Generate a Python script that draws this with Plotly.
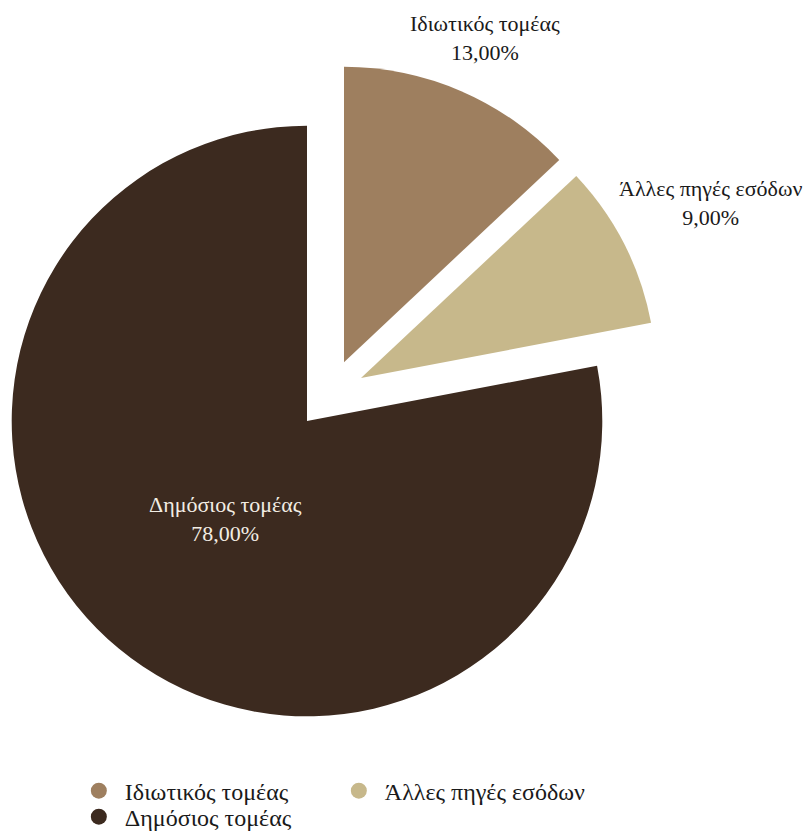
import plotly.graph_objects as go

labels = ["Ιδιωτικός τομέας", "Άλλες πηγές εσόδων", "Δημόσιος τομέας"]
values = [13, 9, 78]
colors = ["#9E7F5F", "#C7B88B", "#3C2A1F"]

W, H = 812, 840
R = 296
CLEAR = "rgba(0,0,0,0)"
FONT = "Liberation Serif"


def box(cx, cy):
    # pie domain (paper fractions) for a given center in px
    return dict(x=[(cx - R) / W, (cx + R) / W],
                y=[1 - (cy + R) / H, 1 - (cy - R) / H])


# one pie per slice so that the pulled slices sit where they do in the picture
slice_centers = [(344, 363), (361, 379), (307, 422)]
# slice labels, px centres
label_spots = [(485, 38), (710, 203), (225, 520)]
label_colors = ["#1a1a1a", "#1a1a1a", "#F2EDE4"]
# legend rows: first two entries on top, last one below
legend_rows = ["legend", "legend", "legend2"]

fig = go.Figure()
total = sum(values)
for i, (cx, cy) in enumerate(slice_centers):
    cols = [CLEAR] * len(values)
    cols[i] = colors[i]
    fig.add_trace(go.Pie(
        labels=labels,
        values=values,
        sort=False,
        direction="clockwise",
        rotation=0,
        domain=box(cx, cy),
        marker=dict(colors=cols, line=dict(width=0)),
        textinfo="none",
        hoverinfo="skip",
        showlegend=False,
    ))
    lx, ly = label_spots[i]
    pct = f"{100 * values[i] / total:.2f}".replace(".", ",")
    fig.add_annotation(
        x=lx / W, y=1 - ly / H, xref="paper", yref="paper",
        text=f"{labels[i]}<br>{pct}%", showarrow=False,
        xanchor="center", yanchor="middle",
        font=dict(family=FONT, size=22, color=label_colors[i]),
    )

# round legend markers
for lab, col, lg in zip(labels, colors, legend_rows):
    fig.add_trace(go.Scatter(
        x=[None], y=[None], mode="markers", name=lab, legend=lg,
        marker=dict(symbol="circle", size=20, color=col),
    ))

legend_style = dict(
    orientation="h",
    x=0.0897, xanchor="left",
    yanchor="middle",
    entrywidth=203, entrywidthmode="pixels",
    itemwidth=42,
    font=dict(family=FONT, size=24, color="#1a1a1a"),
    bgcolor="rgba(0,0,0,0)",
)

fig.update_layout(
    width=W, height=H,
    margin=dict(l=0, r=0, t=0, b=0),
    paper_bgcolor="white",
    plot_bgcolor="white",
    font=dict(family=FONT, size=22, color="#1a1a1a"),
    xaxis=dict(visible=False),
    yaxis=dict(visible=False),
    legend=dict(legend_style, y=1 - 793 / H),
    legend2=dict(legend_style, y=1 - 819 / H),
)

fig.write_html("out.html", config={"displayModeBar": False},
               post_script="document.body.style.margin='0';")
